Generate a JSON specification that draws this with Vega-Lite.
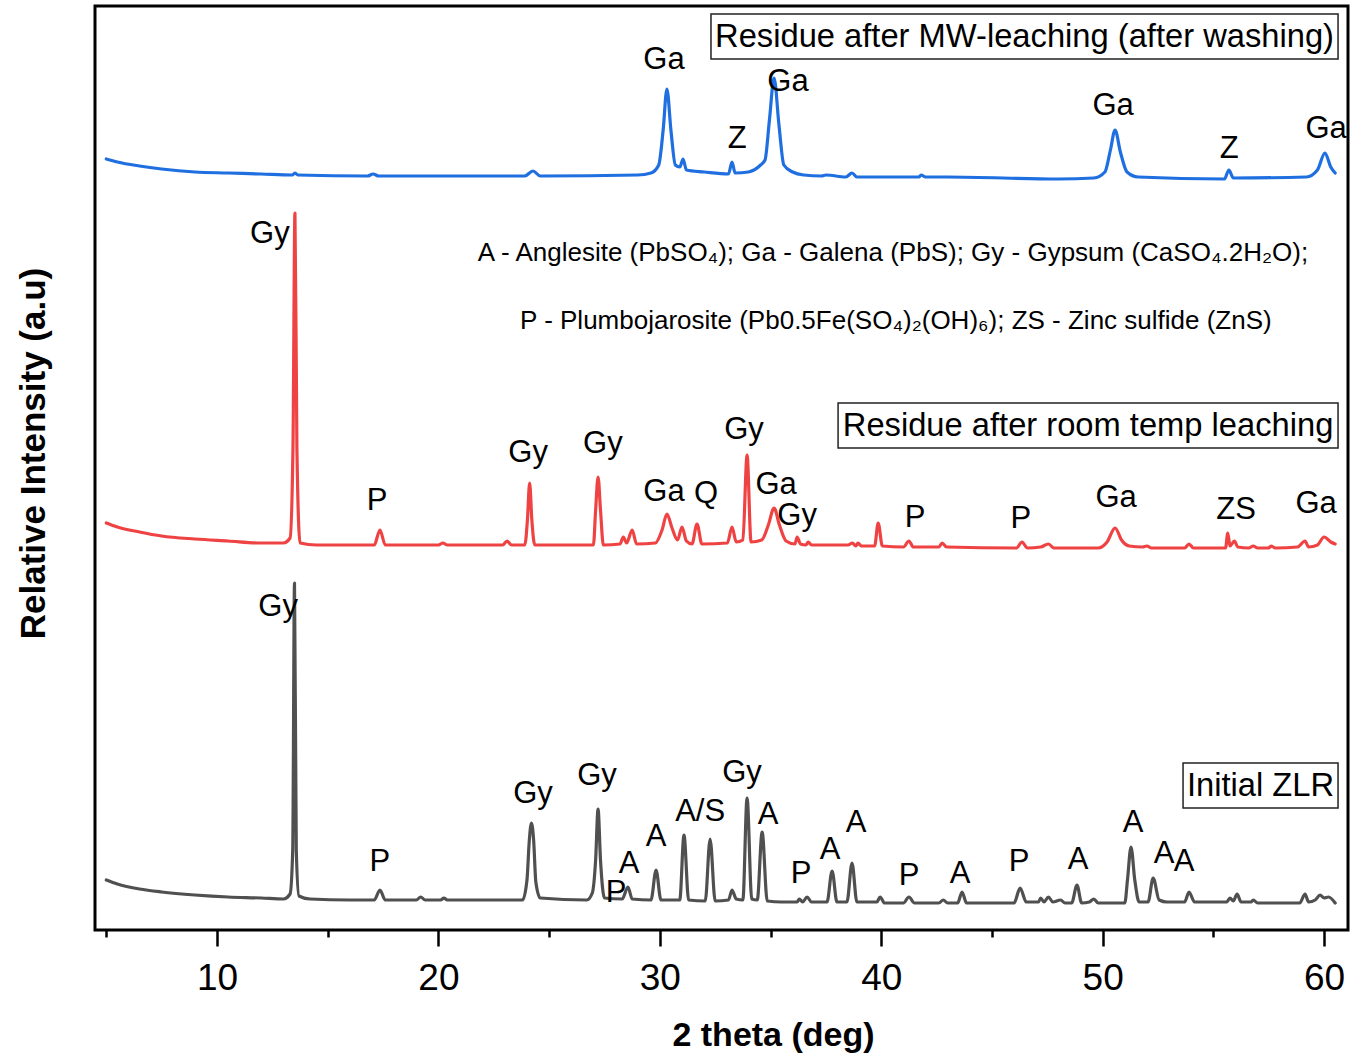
{
  "$schema": "https://vega.github.io/schema/vega-lite/v6.json",
  "width": 1253,
  "height": 924,
  "autosize": "none",
  "padding": {"left": 95, "top": 6, "right": 10, "bottom": 129},
  "background": "white",
  "config": {
    "font": "Liberation Sans",
    "view": {"stroke": "black", "strokeWidth": 3},
    "axis": {"labelFont": "Liberation Sans", "titleFont": "Liberation Sans", "labelColor": "black", "titleColor": "black", "tickColor": "black", "grid": false, "domain": false}
  },
  "datasets": {
    "curves": [
      {"s":"ZLR","t":5.0,"I":50},{"s":"ZLR","t":5.5,"I":46},{"s":"ZLR","t":6.5,"I":41},{"s":"ZLR","t":7.5,"I":38},{"s":"ZLR","t":9,"I":35},{"s":"ZLR","t":10.5,"I":33},{"s":"ZLR","t":12,"I":32},{"s":"ZLR","t":13.0,"I":31},{"s":"ZLR","t":13.3,"I":36},{"s":"ZLR","t":13.42,"I":80},{"s":"ZLR","t":13.5,"I":347},{"s":"ZLR","t":13.58,"I":80},{"s":"ZLR","t":13.7,"I":34},{"s":"ZLR","t":14.2,"I":31},{"s":"ZLR","t":16,"I":30},{"s":"ZLR","t":17.1,"I":30},{"s":"ZLR","t":17.36,"I":40},{"s":"ZLR","t":17.6,"I":30},{"s":"ZLR","t":19.0,"I":30},{"s":"ZLR","t":19.2,"I":33},{"s":"ZLR","t":19.4,"I":30},{"s":"ZLR","t":20.1,"I":30},{"s":"ZLR","t":20.25,"I":32},{"s":"ZLR","t":20.4,"I":30},{"s":"ZLR","t":23.8,"I":30},{"s":"ZLR","t":24.0,"I":50},{"s":"ZLR","t":24.1,"I":88},{"s":"ZLR","t":24.2,"I":107},{"s":"ZLR","t":24.3,"I":90},{"s":"ZLR","t":24.4,"I":48},{"s":"ZLR","t":24.6,"I":32},{"s":"ZLR","t":26.7,"I":30},{"s":"ZLR","t":26.95,"I":37},{"s":"ZLR","t":27.1,"I":70},{"s":"ZLR","t":27.21,"I":121},{"s":"ZLR","t":27.32,"I":70},{"s":"ZLR","t":27.5,"I":32},{"s":"ZLR","t":28.3,"I":31},{"s":"ZLR","t":28.56,"I":43},{"s":"ZLR","t":28.75,"I":31},{"s":"ZLR","t":29.6,"I":30},{"s":"ZLR","t":29.83,"I":60},{"s":"ZLR","t":30.05,"I":30},{"s":"ZLR","t":30.9,"I":30},{"s":"ZLR","t":31.09,"I":95},{"s":"ZLR","t":31.3,"I":30},{"s":"ZLR","t":32.05,"I":29},{"s":"ZLR","t":32.27,"I":91},{"s":"ZLR","t":32.5,"I":29},{"s":"ZLR","t":33.1,"I":30},{"s":"ZLR","t":33.26,"I":40},{"s":"ZLR","t":33.45,"I":31},{"s":"ZLR","t":33.75,"I":30},{"s":"ZLR","t":33.94,"I":132},{"s":"ZLR","t":34.15,"I":31},{"s":"ZLR","t":34.4,"I":30},{"s":"ZLR","t":34.62,"I":98},{"s":"ZLR","t":34.85,"I":29},{"s":"ZLR","t":35.5,"I":28},{"s":"ZLR","t":36.2,"I":28},{"s":"ZLR","t":36.3,"I":31},{"s":"ZLR","t":36.45,"I":28},{"s":"ZLR","t":36.65,"I":33},{"s":"ZLR","t":36.85,"I":28},{"s":"ZLR","t":37.55,"I":28},{"s":"ZLR","t":37.78,"I":59},{"s":"ZLR","t":38.0,"I":28},{"s":"ZLR","t":38.45,"I":28},{"s":"ZLR","t":38.68,"I":67},{"s":"ZLR","t":38.9,"I":28},{"s":"ZLR","t":39.8,"I":28},{"s":"ZLR","t":39.95,"I":33},{"s":"ZLR","t":40.15,"I":27},{"s":"ZLR","t":41.0,"I":27},{"s":"ZLR","t":41.25,"I":33},{"s":"ZLR","t":41.5,"I":27},{"s":"ZLR","t":42.6,"I":27},{"s":"ZLR","t":42.8,"I":30},{"s":"ZLR","t":43.0,"I":27},{"s":"ZLR","t":43.45,"I":27},{"s":"ZLR","t":43.65,"I":38},{"s":"ZLR","t":43.85,"I":27},{"s":"ZLR","t":46.0,"I":27},{"s":"ZLR","t":46.27,"I":42},{"s":"ZLR","t":46.55,"I":28},{"s":"ZLR","t":47.1,"I":28},{"s":"ZLR","t":47.2,"I":32},{"s":"ZLR","t":47.35,"I":28},{"s":"ZLR","t":47.55,"I":33},{"s":"ZLR","t":47.75,"I":28},{"s":"ZLR","t":48.1,"I":30},{"s":"ZLR","t":48.3,"I":27},{"s":"ZLR","t":48.6,"I":27},{"s":"ZLR","t":48.84,"I":45},{"s":"ZLR","t":49.05,"I":27},{"s":"ZLR","t":49.4,"I":28},{"s":"ZLR","t":49.6,"I":31},{"s":"ZLR","t":49.8,"I":27},{"s":"ZLR","t":51.0,"I":27},{"s":"ZLR","t":51.12,"I":50},{"s":"ZLR","t":51.28,"I":83},{"s":"ZLR","t":51.45,"I":50},{"s":"ZLR","t":51.65,"I":28},{"s":"ZLR","t":52.05,"I":28},{"s":"ZLR","t":52.28,"I":52},{"s":"ZLR","t":52.55,"I":30},{"s":"ZLR","t":52.9,"I":28},{"s":"ZLR","t":53.7,"I":28},{"s":"ZLR","t":53.9,"I":38},{"s":"ZLR","t":54.15,"I":28},{"s":"ZLR","t":55.6,"I":28},{"s":"ZLR","t":55.75,"I":32},{"s":"ZLR","t":55.9,"I":29},{"s":"ZLR","t":56.07,"I":36},{"s":"ZLR","t":56.25,"I":28},{"s":"ZLR","t":56.7,"I":28},{"s":"ZLR","t":56.8,"I":30},{"s":"ZLR","t":57.0,"I":27},{"s":"ZLR","t":58.9,"I":27},{"s":"ZLR","t":59.14,"I":36},{"s":"ZLR","t":59.3,"I":28},{"s":"ZLR","t":59.6,"I":30},{"s":"ZLR","t":59.82,"I":35},{"s":"ZLR","t":60.0,"I":32},{"s":"ZLR","t":60.2,"I":33},{"s":"ZLR","t":60.5,"I":27},

      {"s":"RT","t":5.0,"I":407},{"s":"RT","t":5.5,"I":403},{"s":"RT","t":6.5,"I":398},{"s":"RT","t":7.5,"I":394},{"s":"RT","t":9,"I":391},{"s":"RT","t":10.5,"I":389},{"s":"RT","t":12,"I":387},{"s":"RT","t":13.0,"I":387},{"s":"RT","t":13.3,"I":392},{"s":"RT","t":13.43,"I":480},{"s":"RT","t":13.52,"I":717},{"s":"RT","t":13.61,"I":480},{"s":"RT","t":13.75,"I":387},{"s":"RT","t":14.5,"I":385},{"s":"RT","t":17.1,"I":385},{"s":"RT","t":17.36,"I":400},{"s":"RT","t":17.6,"I":385},{"s":"RT","t":20.0,"I":385},{"s":"RT","t":20.2,"I":387},{"s":"RT","t":20.4,"I":385},{"s":"RT","t":22.9,"I":385},{"s":"RT","t":23.1,"I":389},{"s":"RT","t":23.3,"I":385},{"s":"RT","t":23.9,"I":385},{"s":"RT","t":24.02,"I":410},{"s":"RT","t":24.12,"I":447},{"s":"RT","t":24.22,"I":410},{"s":"RT","t":24.35,"I":385},{"s":"RT","t":27.0,"I":385},{"s":"RT","t":27.1,"I":420},{"s":"RT","t":27.21,"I":453},{"s":"RT","t":27.32,"I":420},{"s":"RT","t":27.45,"I":385},{"s":"RT","t":28.2,"I":386},{"s":"RT","t":28.35,"I":393},{"s":"RT","t":28.5,"I":387},{"s":"RT","t":28.75,"I":400},{"s":"RT","t":28.95,"I":386},{"s":"RT","t":29.8,"I":387},{"s":"RT","t":30.1,"I":400},{"s":"RT","t":30.32,"I":416},{"s":"RT","t":30.55,"I":402},{"s":"RT","t":30.8,"I":390},{"s":"RT","t":31.0,"I":403},{"s":"RT","t":31.2,"I":389},{"s":"RT","t":31.45,"I":386},{"s":"RT","t":31.68,"I":406},{"s":"RT","t":31.9,"I":386},{"s":"RT","t":33.05,"I":387},{"s":"RT","t":33.26,"I":403},{"s":"RT","t":33.45,"I":388},{"s":"RT","t":33.75,"I":390},{"s":"RT","t":33.94,"I":475},{"s":"RT","t":34.12,"I":388},{"s":"RT","t":34.6,"I":390},{"s":"RT","t":34.9,"I":405},{"s":"RT","t":35.16,"I":422},{"s":"RT","t":35.4,"I":405},{"s":"RT","t":35.7,"I":389},{"s":"RT","t":36.1,"I":386},{"s":"RT","t":36.2,"I":393},{"s":"RT","t":36.35,"I":386},{"s":"RT","t":36.6,"I":385},{"s":"RT","t":36.7,"I":388},{"s":"RT","t":36.85,"I":385},{"s":"RT","t":37.5,"I":385},{"s":"RT","t":38.5,"I":385},{"s":"RT","t":38.7,"I":387},{"s":"RT","t":38.85,"I":384},{"s":"RT","t":38.95,"I":387},{"s":"RT","t":39.1,"I":384},{"s":"RT","t":39.7,"I":384},{"s":"RT","t":39.86,"I":407},{"s":"RT","t":40.05,"I":384},{"s":"RT","t":41.0,"I":383},{"s":"RT","t":41.25,"I":389},{"s":"RT","t":41.45,"I":383},{"s":"RT","t":42.6,"I":383},{"s":"RT","t":42.75,"I":387},{"s":"RT","t":42.95,"I":383},{"s":"RT","t":46.1,"I":382},{"s":"RT","t":46.36,"I":388},{"s":"RT","t":46.6,"I":382},{"s":"RT","t":47.2,"I":383},{"s":"RT","t":47.55,"I":386},{"s":"RT","t":47.8,"I":382},{"s":"RT","t":49.8,"I":382},{"s":"RT","t":50.2,"I":388},{"s":"RT","t":50.56,"I":402},{"s":"RT","t":50.85,"I":390},{"s":"RT","t":51.2,"I":384},{"s":"RT","t":51.8,"I":383},{"s":"RT","t":52.0,"I":384},{"s":"RT","t":52.2,"I":382},{"s":"RT","t":53.7,"I":382},{"s":"RT","t":53.9,"I":386},{"s":"RT","t":54.1,"I":382},{"s":"RT","t":55.55,"I":382},{"s":"RT","t":55.65,"I":397},{"s":"RT","t":55.75,"I":384},{"s":"RT","t":55.95,"I":389},{"s":"RT","t":56.1,"I":383},{"s":"RT","t":56.6,"I":382},{"s":"RT","t":56.8,"I":384},{"s":"RT","t":57.0,"I":382},{"s":"RT","t":57.5,"I":382},{"s":"RT","t":57.6,"I":384},{"s":"RT","t":57.8,"I":382},{"s":"RT","t":58.8,"I":383},{"s":"RT","t":59.14,"I":389},{"s":"RT","t":59.3,"I":383},{"s":"RT","t":59.7,"I":385},{"s":"RT","t":60.0,"I":393},{"s":"RT","t":60.3,"I":388},{"s":"RT","t":60.5,"I":386},

      {"s":"MW","t":5.0,"I":771},{"s":"MW","t":5.5,"I":768},{"s":"MW","t":6.5,"I":764},{"s":"MW","t":7.5,"I":761},{"s":"MW","t":9,"I":758},{"s":"MW","t":10.5,"I":757},{"s":"MW","t":12,"I":756},{"s":"MW","t":13.4,"I":755},{"s":"MW","t":13.52,"I":757},{"s":"MW","t":13.65,"I":755},{"s":"MW","t":16.8,"I":754},{"s":"MW","t":17.05,"I":756},{"s":"MW","t":17.3,"I":754},{"s":"MW","t":23.9,"I":754},{"s":"MW","t":24.27,"I":759},{"s":"MW","t":24.6,"I":754},{"s":"MW","t":29.0,"I":755},{"s":"MW","t":29.6,"I":757},{"s":"MW","t":29.95,"I":765},{"s":"MW","t":30.15,"I":800},{"s":"MW","t":30.32,"I":841},{"s":"MW","t":30.5,"I":800},{"s":"MW","t":30.7,"I":765},{"s":"MW","t":30.9,"I":763},{"s":"MW","t":31.05,"I":771},{"s":"MW","t":31.2,"I":760},{"s":"MW","t":32.0,"I":758},{"s":"MW","t":33.1,"I":756},{"s":"MW","t":33.26,"I":768},{"s":"MW","t":33.4,"I":757},{"s":"MW","t":34.0,"I":758},{"s":"MW","t":34.55,"I":765},{"s":"MW","t":34.75,"I":770},{"s":"MW","t":34.95,"I":810},{"s":"MW","t":35.16,"I":852},{"s":"MW","t":35.38,"I":805},{"s":"MW","t":35.6,"I":765},{"s":"MW","t":36.0,"I":758},{"s":"MW","t":36.5,"I":755},{"s":"MW","t":37.3,"I":754},{"s":"MW","t":37.5,"I":755},{"s":"MW","t":38.4,"I":753},{"s":"MW","t":38.68,"I":757},{"s":"MW","t":38.9,"I":753},{"s":"MW","t":41.7,"I":753},{"s":"MW","t":41.8,"I":755},{"s":"MW","t":42.0,"I":753},{"s":"MW","t":43.0,"I":753},{"s":"MW","t":48.0,"I":751},{"s":"MW","t":49.6,"I":752},{"s":"MW","t":50.1,"I":758},{"s":"MW","t":50.35,"I":780},{"s":"MW","t":50.56,"I":800},{"s":"MW","t":50.8,"I":778},{"s":"MW","t":51.1,"I":758},{"s":"MW","t":51.6,"I":753},{"s":"MW","t":55.5,"I":751},{"s":"MW","t":55.7,"I":760},{"s":"MW","t":55.9,"I":752},{"s":"MW","t":59.2,"I":753},{"s":"MW","t":59.7,"I":760},{"s":"MW","t":60.04,"I":777},{"s":"MW","t":60.3,"I":763},{"s":"MW","t":60.5,"I":757}
    ],
    "labels": [
      {"t":30.19,"I":870,"label":"Ga"},{"t":33.49,"I":791,"label":"Z"},{"t":35.79,"I":848,"label":"Ga"},{"t":50.47,"I":824,"label":"Ga"},{"t":55.71,"I":781,"label":"Z"},{"t":60.09,"I":801,"label":"Ga"},
      {"t":12.39,"I":696,"label":"Gy"},{"t":17.23,"I":429,"label":"P"},{"t":24.05,"I":477,"label":"Gy"},{"t":27.43,"I":486,"label":"Gy"},{"t":30.19,"I":438,"label":"Ga"},{"t":32.09,"I":436,"label":"Q"},{"t":33.8,"I":500,"label":"Gy"},{"t":35.25,"I":445,"label":"Ga"},{"t":36.2,"I":414,"label":"Gy"},{"t":41.53,"I":412,"label":"P"},{"t":46.31,"I":411,"label":"P"},{"t":50.61,"I":432,"label":"Ga"},{"t":56.03,"I":420,"label":"ZS"},{"t":59.64,"I":426,"label":"Ga"},
      {"t":12.76,"I":323,"label":"Gy"},{"t":17.36,"I":68,"label":"P"},{"t":24.27,"I":136,"label":"Gy"},{"t":27.16,"I":154,"label":"Gy"},{"t":28.02,"I":37,"label":"P"},{"t":28.61,"I":66,"label":"A"},{"t":29.83,"I":93,"label":"A"},{"t":31.82,"I":118,"label":"A/S"},{"t":33.71,"I":157,"label":"Gy"},{"t":34.89,"I":115,"label":"A"},{"t":36.38,"I":56,"label":"P"},{"t":37.69,"I":80,"label":"A"},{"t":38.86,"I":107,"label":"A"},{"t":41.26,"I":54,"label":"P"},{"t":43.56,"I":56,"label":"A"},{"t":46.22,"I":68,"label":"P"},{"t":48.89,"I":70,"label":"A"},{"t":51.37,"I":107,"label":"A"},{"t":52.77,"I":76,"label":"A"},{"t":53.68,"I":68,"label":"A"}
    ],
    "boxes": [
      {"x1":32.31,"x2":60.63,"I":916,"I2":871,"tc":46.47,"ic":893,"label":"Residue after MW-leaching (after washing)"},
      {"x1":38.05,"x2":60.63,"I":527,"I2":482,"tc":49.34,"ic":504,"label":"Residue after room temp leaching"},
      {"x1":53.63,"x2":60.63,"I":167,"I2":122,"tc":57.13,"ic":144,"label":"Initial ZLR"}
    ],
    "notes": [
      {"t":40.53,"I":677,"label":"A - Anglesite (PbSO₄); Ga - Galena (PbS); Gy - Gypsum (CaSO₄.2H₂O);"},
      {"t":40.66,"I":609,"label":"P - Plumbojarosite (Pb0.5Fe(SO₄)₂(OH)₆); ZS - Zinc sulfide (ZnS)"}
    ]
  },
  "resolve": {"axis": {"x": "independent"}},
  "layer": [
    {
      "data": {"name": "curves"},
      "mark": {"type": "line", "strokeWidth": 3.2, "interpolate": "monotone", "strokeJoin": "round", "strokeCap": "round"},
      "encoding": {
        "x": {"field": "t", "type": "quantitative", "scale": {"domain": [4.49, 61.08], "nice": false, "zero": false},
          "axis": {"orient": "bottom", "values": [10, 20, 30, 40, 50, 60], "tickSize": 16, "tickWidth": 2.5, "labelFontSize": 37, "labelPadding": 14, "title": "2 theta (deg)", "titleFontSize": 34, "titleFontWeight": "bold", "titlePadding": 22, "titleX": 678}},
        "y": {"field": "I", "type": "quantitative", "scale": {"domain": [0, 924], "nice": false, "zero": false},
          "axis": {"ticks": false, "labels": false, "title": "Relative Intensity (a.u)", "titleFontSize": 35, "titleFontWeight": "bold", "titlePadding": 44, "titleY": 447}},
        "color": {"field": "s", "type": "nominal", "scale": {"domain": ["ZLR", "RT", "MW"], "range": ["#505050", "#ef4343", "#1f6fe0"]}, "legend": null}
      }
    },
    {
      "data": {"name": "boxes"},
      "mark": {"type": "rect", "fill": "white", "fillOpacity": 0, "stroke": "#222222", "strokeWidth": 1.5},
      "encoding": {
        "x": {"field": "x1", "type": "quantitative", "axis": {"orient": "bottom", "values": [5, 15, 25, 35, 45, 55], "tickSize": 7, "tickWidth": 2.5, "labels": false, "title": null}},
        "x2": {"field": "x2"},
        "y": {"field": "I", "type": "quantitative"},
        "y2": {"field": "I2"}
      }
    },
    {
      "data": {"name": "boxes"},
      "mark": {"type": "text", "fontSize": 32.7, "align": "center", "baseline": "middle", "color": "black"},
      "encoding": {
        "x": {"field": "tc", "type": "quantitative", "axis": null},
        "y": {"field": "ic", "type": "quantitative"},
        "text": {"field": "label"}
      }
    },
    {
      "data": {"name": "labels"},
      "mark": {"type": "text", "fontSize": 31, "align": "center", "baseline": "middle", "color": "black"},
      "encoding": {
        "x": {"field": "t", "type": "quantitative", "axis": null},
        "y": {"field": "I", "type": "quantitative"},
        "text": {"field": "label"}
      }
    },
    {
      "data": {"name": "notes"},
      "mark": {"type": "text", "fontSize": 26, "align": "center", "baseline": "middle", "color": "black"},
      "encoding": {
        "x": {"field": "t", "type": "quantitative", "axis": null},
        "y": {"field": "I", "type": "quantitative"},
        "text": {"field": "label"}
      }
    }
  ]
}
